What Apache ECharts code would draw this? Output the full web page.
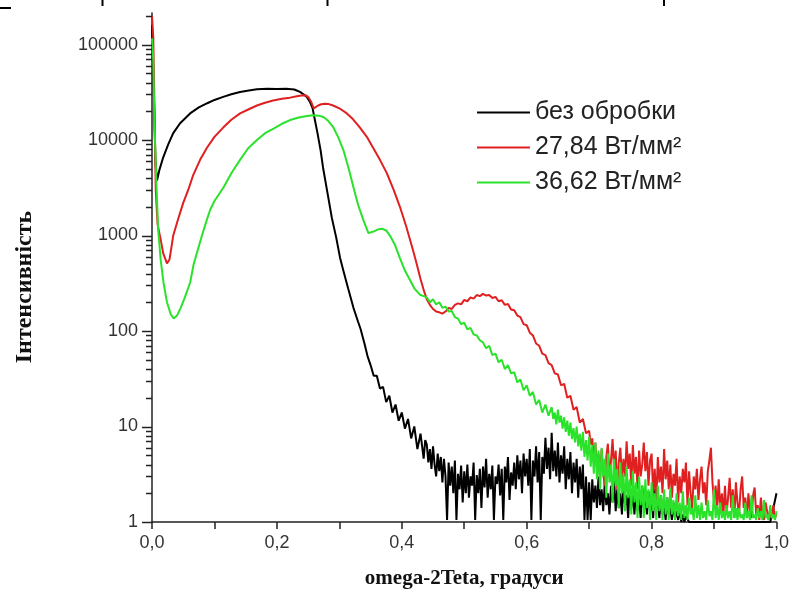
<!DOCTYPE html>
<html><head><meta charset="utf-8">
<script src="https://cdn.jsdelivr.net/npm/echarts@6/dist/echarts.min.js"></script>
<style>html,body{margin:0;padding:0;background:#fff}#c{width:792px;height:603px}</style>
</head><body><div id="c"></div>
<script>
const seriesNames = ['без обробки', '27,84 Вт/мм²', '36,62 Вт/мм²'];
const seriesColors = ['#000000', '#e02020', '#2be22b'];
const yMajorTicks = [1, 10, 100, 1000, 10000, 100000];
const yMinorTicks = [2,3,4,5,6,7,8,9,20,30,40,50,60,70,80,90,200,300,400,500,600,700,800,900,
  2000,3000,4000,5000,6000,7000,8000,9000,20000,30000,40000,50000,60000,70000,80000,90000,200000];

const blackPts = [[0,160000],[0.003,30000],[0.0055,6000],[0.008,3770],[0.012,4900],[0.018,6600],[0.026,9000],[0.034,11800],[0.045,15000],[0.061,19000],[0.075,22000],[0.0885,24300],[0.1,26300],[0.114,28300],[0.127,30200],[0.141,31900],[0.155,33000],[0.168,34000],[0.185,34500],[0.2,34300],[0.215,34400],[0.228,33800],[0.237,31900],[0.243,30000],[0.248,28300],[0.253,25000],[0.257,21700],[0.261,16000],[0.265,11800],[0.27,7800],[0.274,5100],[0.281,2800],[0.288,1530],[0.295,950],[0.301,590],[0.307,415],[0.314,280],[0.3226,175],[0.33,125],[0.334,105],[0.34,75],[0.345,55],
[0.350,44],[0.355,34],[0.360,34],[0.365,25],[0.370,26],[0.375,18],[0.380,21],[0.385,14],[0.390,17],[0.395,11.5],[0.400,14],[0.405,9.5],[0.410,12],[0.415,7.5],[0.420,10],[0.425,5.8],[0.430,8.4],[0.435,4.6],[0.4375,7.2],
[0.4400,6.5],[0.4425,4.2],[0.4450,5.8],[0.4475,3.6],[0.4500,6.2],[0.4525,4.0],[0.4550,3.0],[0.4575,5.2],[0.4600,3.4],[0.4625,4.8],[0.4650,2.6],[0.4675,4.6],[0.4700,3.0],[0.4725,1.05],[0.4750,4.2],[0.4775,2.4],[0.4800,3.8],[0.4825,2.0],[0.4850,4.4],[0.4875,1.05],[0.4900,3.2],[0.4925,2.2],[0.4950,3.9],[0.4975,1.6],[0.5000,3.4],[0.5025,2.0],[0.5050,4.0],[0.5075,1.8],[0.5100,3.0],[0.5125,2.4],[0.5150,4.2],[0.5175,1.05],[0.5200,3.1],[0.5225,2.0],[0.5250,3.6],[0.5275,1.4],[0.5300,3.8],[0.5325,2.3],[0.5350,4.6],[0.5375,1.8],[0.5400,3.2],[0.5425,2.2],[0.5450,3.9],[0.5475,1.05],[0.5500,3.0],[0.5525,2.5],[0.5550,4.0],[0.5575,1.9],[0.5600,3.6],[0.5625,1.05],[0.5650,3.8],[0.5675,2.6],[0.5700,4.8],[0.5725,1.7],[0.5750,3.3],[0.5775,2.4],[0.5800,4.2],[0.5825,2.2],[0.5850,5.0],[0.5875,2.8],[0.5900,4.4],[0.5925,2.0],[0.5950,5.2],[0.5975,3.0],[0.6000,4.6],[0.6025,2.4],[0.6050,5.8],[0.6075,1.05],[0.6100,4.4],[0.6125,3.0],[0.6150,6.2],[0.6175,2.6],[0.6200,5.4],[0.6225,1.05],[0.6250,4.8],[0.6275,3.2],[0.6300,7.6],[0.6325,3.6],[0.6350,6.0],[0.6375,2.8],[0.6400,8.6],[0.6425,3.4],[0.6450,5.6],[0.6475,3.0],[0.6500,6.8],[0.6525,2.6],[0.6550,5.0],[0.6575,3.2],[0.6600,6.2],[0.6625,2.2],[0.6650,4.6],[0.6675,2.8],[0.6700,5.4],[0.6725,2.0],[0.6750,4.2],[0.6775,2.6],[0.6800,4.6],[0.6825,1.8],[0.6850,3.8],[0.6875,2.2],[0.6900,4.0],[0.6925,1.05],[0.6950,3.0],[0.6975,1.05],[0.7000,2.6],[0.7025,1.05],[0.7050,2.8],[0.7075,1.6],[0.7100,2.4],[0.7125,1.4],[0.7150,3.0],[0.7175,1.5],[0.7200,2.2],[0.7225,1.3],[0.7250,2.6],[0.7275,1.5],[0.7300,2.0],[0.7325,1.2],[0.7350,2.4],[0.7375,1.6],[0.7400,2.8],[0.7425,1.3],[0.7450,2.2],[0.7475,1.4],[0.7500,2.0],[0.7525,1.2],[0.7550,2.4],[0.7575,1.5],[0.7600,1.9],[0.7625,1.1],[0.7650,2.5],[0.7675,1.4],[0.7700,2.0],[0.7725,1.2],[0.7750,2.2],[0.7775,1.3],[0.7800,1.8],[0.7825,1.1],[0.7850,2.4],[0.7875,1.4],[0.7900,1.9],[0.7925,1.2],[0.7950,2.1],[0.7975,1.3],[0.8000,1.7],[0.8025,1.1],[0.8050,2.2],[0.8075,1.4],[0.8100,1.6],[0.8125,1.1],[0.8150,1.9],[0.8175,1.2],[0.8200,1.5],[0.8225,1.05],[0.8250,1.8],[0.8275,1.2],[0.8300,1.4],[0.8325,1.05],[0.8350,1.6],[0.8375,1.1],[0.8400,1.3],[0.8425,1.05],[0.8450,1.4],[0.8475,1.0],[0.8500,1.2],[0.8525,1.0],[0.8550,1.15],[0.8600,1.0],
[0.9,1],[0.95,1],[0.99,1],[0.995,1.4],[1.0,2]];

const redPts = [[0,200000],[0.002,120000],[0.004,20000],[0.006,3000],[0.009,1300],[0.0133,950],[0.018,650],[0.024,510],[0.028,560],[0.034,1000],[0.042,1500],[0.05,2200],[0.058,3000],[0.066,4300],[0.077,6200],[0.088,8300],[0.1,10800],[0.114,13500],[0.127,16300],[0.141,19000],[0.155,21000],[0.168,23000],[0.181,24600],[0.194,26000],[0.208,27000],[0.221,27800],[0.232,28800],[0.242,29500],[0.247,29200],[0.251,27800],[0.255,25000],[0.259,21500],[0.262,22000],[0.266,23000],[0.271,23700],[0.277,24000],[0.283,23800],[0.29,23000],[0.3,21500],[0.312,19000],[0.322,16500],[0.333,13500],[0.344,10800],[0.354,8300],[0.365,6200],[0.376,4500],[0.387,3000],[0.397,2000],[0.407,1250],[0.418,700],[0.424,500],[0.43,350],[0.435,270],[0.44,215],[0.445,188],[0.45,170],[0.455,160],
[0.460,157],[0.465,152],[0.470,160],[0.475,175],[0.480,170],[0.485,188],[0.490,195],[0.495,190],[0.500,212],[0.505,205],[0.510,225],[0.515,218],[0.520,238],[0.525,232],[0.530,245],[0.535,235],[0.540,238],[0.545,222],[0.550,228],[0.555,205],[0.560,210],[0.565,188],[0.570,192],[0.575,168],[0.580,165],[0.585,145],[0.590,140],[0.595,118],[0.600,115],[0.605,96],[0.610,90],[0.615,74],[0.620,70],[0.625,58],[0.630,56],[0.635,46],[0.640,44],[0.645,36],[0.650,35],[0.655,27],[0.660,28],[0.665,20],[0.670,21],[0.675,15],[0.680,16],[0.685,11],[0.690,12],[0.695,8.5],
[0.7000,9],[0.7025,6.5],[0.7050,7.5],[0.7075,4.5],[0.7100,6.8],[0.7125,3.6],[0.7150,5.2],[0.7175,2.8],[0.7200,5.8],[0.7225,3.2],[0.7250,2.4],[0.7275,4.8],[0.7300,6.6],[0.7325,3.0],[0.7350,4.4],[0.7375,7.4],[0.7400,3.4],[0.7425,5.6],[0.7450,2.2],[0.7475,4.2],[0.7500,6.0],[0.7525,2.8],[0.7550,4.6],[0.7575,3.0],[0.7600,7.0],[0.7625,3.6],[0.7650,5.2],[0.7675,2.4],[0.7700,6.4],[0.7725,3.2],[0.7750,4.8],[0.7775,2.2],[0.7800,5.6],[0.7825,3.0],[0.7850,4.0],[0.7875,6.8],[0.7900,3.4],[0.7925,5.4],[0.7950,2.4],[0.7975,4.4],[0.8000,5.2],[0.8025,2.0],[0.8050,3.6],[0.8075,1.6],[0.8100,4.8],[0.8125,2.6],[0.8150,3.8],[0.8175,2.0],[0.8200,5.8],[0.8225,2.8],[0.8250,4.4],[0.8275,2.2],[0.8300,4.0],[0.8325,1.8],[0.8350,3.2],[0.8375,2.4],[0.8400,4.6],[0.8425,1.6],[0.8450,3.0],[0.8475,2.0],[0.8500,3.6],[0.8525,2.6],[0.8550,4.2],[0.8575,1.5],[0.8600,3.4],[0.8625,2.0],[0.8650,1.4],[0.8675,3.0],[0.8700,2.2],[0.8725,3.6],[0.8750,1.7],[0.8775,2.8],[0.8800,3.8],[0.8825,2.0],[0.8850,2.6],[0.8875,1.5],[0.8900,3.4],[0.8925,4.4],[0.8950,6.0],[0.8975,2.6],[0.9000,1.6],[0.9025,2.4],[0.9050,1.4],[0.9075,2.8],[0.9100,1.3],[0.9125,2.0],[0.9150,1.2],[0.9175,2.4],[0.9200,1.2],[0.9225,1.8],[0.9250,2.9],[0.9275,1.4],[0.9300,2.2],[0.9325,1.1],[0.9350,2.6],[0.9375,1.6],[0.9400,1.2],[0.9425,2.2],[0.9450,3.0],[0.9475,1.4],[0.9500,1.8],[0.9525,1.1],[0.9550,2.0],[0.9575,1.3],[0.9600,1.1],[0.9625,1.9],[0.9650,2.3],[0.9675,1.2],[0.9700,1.5],[0.9725,1.05],[0.9750,1.8],[0.9775,1.2],[0.9800,1.05],[0.9825,1.6],[0.9850,1.3],[0.9875,1.05],[0.9900,1.4],[0.9925,1.1],[0.9950,1.5],[0.9975,1.1],[1.0000,1.2]];

const greenPts = [[0,116000],[0.002,70000],[0.004,15000],[0.007,3500],[0.0099,1150],[0.014,550],[0.0186,315],[0.024,200],[0.03,150],[0.0346,135],[0.04,145],[0.046,175],[0.052,220],[0.061,320],[0.0667,500],[0.072,660],[0.08,1000],[0.0875,1440],[0.093,1850],[0.1,2300],[0.1147,3200],[0.128,4600],[0.141,6200],[0.154,8200],[0.168,10000],[0.181,11800],[0.1947,13200],[0.208,14800],[0.221,16200],[0.235,17200],[0.248,17900],[0.258,18200],[0.267,18000],[0.2746,17400],[0.282,15900],[0.29,13700],[0.298,10800],[0.3066,7800],[0.315,5000],[0.3226,3200],[0.33,2100],[0.3386,1440],[0.3466,1060],[0.3546,1100],[0.362,1160],[0.368,1180],[0.375,1130],[0.381,1000],[0.389,800],[0.397,580],[0.405,430],[0.4133,340],[0.42,280],[0.429,240],[0.435,232],
[0.440,225],[0.445,200],[0.450,215],[0.455,190],[0.460,200],[0.465,175],[0.470,180],[0.475,160],[0.480,162],[0.485,140],[0.490,135],[0.495,118],[0.500,122],[0.505,104],[0.510,108],[0.515,92],[0.520,90],[0.525,80],[0.530,76],[0.535,66],[0.540,70],[0.545,56],[0.550,58],[0.555,47],[0.560,50],[0.565,40],[0.570,44],[0.575,36],[0.580,37],[0.585,29],[0.590,31],[0.595,24],[0.600,27],[0.605,21],[0.610,23],[0.615,17],[0.620,19],[0.625,14],[0.630,17],[0.635,13],
[0.6400,16],[0.6425,12],[0.6450,14],[0.6475,10.5],[0.6500,15],[0.6525,11],[0.6550,13],[0.6575,9.5],[0.6600,12.5],[0.6625,8.8],[0.6650,11.5],[0.6675,8.0],[0.6700,11],[0.6725,7.4],[0.6750,9.6],[0.6775,6.8],[0.6800,10],[0.6825,6.2],[0.6850,8.4],[0.6875,5.6],[0.6900,8.8],[0.6925,4.8],[0.6950,7.2],[0.6975,4.4],[0.7000,7.8],[0.7025,3.8],[0.7050,6.4],[0.7075,3.2],[0.7100,6.8],[0.7125,2.8],[0.7150,5.6],[0.7175,2.2],[0.7200,6.0],[0.7225,3.0],[0.7250,4.6],[0.7275,1.8],[0.7300,5.2],[0.7325,2.6],[0.7350,4.0],[0.7375,1.6],[0.7400,4.6],[0.7425,2.4],[0.7450,3.6],[0.7475,1.4],[0.7500,4.2],[0.7525,2.0],[0.7550,3.2],[0.7575,1.3],[0.7600,3.8],[0.7625,1.8],[0.7650,2.8],[0.7675,1.2],[0.7700,3.4],[0.7725,1.6],[0.7750,2.6],[0.7775,1.1],[0.7800,3.0],[0.7825,1.5],[0.7850,2.4],[0.7875,1.1],[0.7900,2.8],[0.7925,1.4],[0.7950,2.2],[0.7975,1.05],[0.8000,2.6],[0.8025,1.3],[0.8050,2.0],[0.8075,1.05],[0.8100,2.4],[0.8125,1.3],[0.8150,1.9],[0.8175,1.05],[0.8200,2.2],[0.8225,1.2],[0.8250,1.8],[0.8275,1.05],[0.8300,2.3],[0.8325,1.2],[0.8350,1.7],[0.8375,1.05],[0.8400,2.0],[0.8425,1.15],[0.8450,1.6],[0.8475,1.05],[0.8500,2.1],[0.8525,1.1],[0.8550,1.5],[0.8575,1.05],[0.8600,1.8],[0.8625,1.2],[0.8650,1.4],[0.8675,1.05],[0.8700,1.9],[0.8725,1.1],[0.8750,1.5],[0.8775,1.05],[0.8800,1.6],[0.8825,1.1],[0.8850,1.3],[0.8875,1.05],[0.8900,1.7],[0.8925,1.15],[0.8950,1.3],[0.8975,1.05],[0.9000,2.2],[0.9025,1.1],[0.9050,1.5],[0.9075,1.05],[0.9100,1.6],[0.9125,1.1],[0.9150,1.3],[0.9175,1.05],[0.9200,1.5],[0.9225,1.1],[0.9250,1.3],[0.9275,1.05],[0.9300,1.9],[0.9325,1.1],[0.9350,1.4],[0.9375,1.05],[0.9400,1.4],[0.9425,1.1],[0.9450,1.2],[0.9475,1.05],[0.9500,1.6],[0.9525,1.1],[0.9550,1.3],[0.9575,1.05],[0.9600,1.9],[0.9625,1.1],[0.9650,1.2],[0.9675,1.05],[0.9700,1.4],[0.9725,1.1],[0.9750,1.3],[0.9775,1.05],[0.9800,1.7],[0.9825,1.1],[0.9850,1.2],[0.9875,1.05],[0.9900,1.5],[0.9925,1.1],[0.9950,1.2],[0.9975,1.05],[1.0000,1.3]];

const axisColor = '#222';
const chart = echarts.init(document.getElementById('c'), null, {renderer: 'canvas'});

const tickData = yMajorTicks.map(v => [0, v, 10]).concat(yMinorTicks.map(v => [0, v, 6]));

const lineSeries = [blackPts, redPts, greenPts].map((pts, i) => ({
  name: seriesNames[i],
  type: 'line',
  data: pts,
  showSymbol: false,
  symbol: 'none',
  lineStyle: {color: seriesColors[i], width: 2},
  itemStyle: {color: seriesColors[i]},
  clip: true,
  z: 2 + i
}));

chart.setOption({
  animation: false,
  backgroundColor: '#ffffff',
  grid: {left: 152, right: 15, top: 13, bottom: 81},
  legend: {
    orient: 'vertical', left: 477, top: 100, padding: 0,
    itemWidth: 53, itemHeight: 2, itemGap: 10, icon: 'rect',
    data: seriesNames,
    textStyle: {fontFamily: '"Liberation Sans", Arial, sans-serif', fontSize: 25, color: '#222', lineHeight: 25}
  },
  xAxis: {
    type: 'value', min: 0, max: 1, interval: 0.1,
    name: 'omega-2Teta, градуси', nameLocation: 'middle', nameGap: 46,
    nameTextStyle: {fontFamily: '"Liberation Serif", "Times New Roman", serif', fontWeight: 'bold', fontSize: 21, color: '#111'},
    axisLine: {lineStyle: {color: axisColor, width: 1.5}},
    axisTick: {length: 7, lineStyle: {color: axisColor, width: 1.5}},
    axisLabel: {
      fontFamily: '"Liberation Sans", Arial, sans-serif', fontSize: 18, color: '#333', margin: 12,
      formatter: v => (Math.round(v * 10) % 2 === 0) ? v.toFixed(1).replace('.', ',') : ''
    },
    splitLine: {show: false}
  },
  yAxis: {
    type: 'log', logBase: 10, min: 1, max: 214000,
    axisLine: {lineStyle: {color: axisColor, width: 1.5}},
    axisTick: {show: false},
    axisLabel: {
      fontFamily: '"Liberation Sans", Arial, sans-serif', fontSize: 18, color: '#333', margin: 14,
      formatter: v => { const l = Math.log10(v); return Math.abs(l - Math.round(l)) < 1e-6 ? String(Math.round(v)) : ''; }
    },
    splitLine: {show: false}
  },
  graphic: [
    {type: 'text', x: 25, y: 287, rotation: Math.PI / 2,
     style: {text: 'Інтенсивність', font: 'bold 24px "Liberation Serif", "Times New Roman", serif', fill: '#111', textAlign: 'center', textVerticalAlign: 'middle'}},
    {type: 'line', shape: {x1: 0, y1: 8, x2: 11, y2: 8}, style: {stroke: '#000', lineWidth: 2}},
    {type: 'line', shape: {x1: 102.5, y1: 0, x2: 102.5, y2: 6}, style: {stroke: '#000', lineWidth: 2}},
    {type: 'line', shape: {x1: 327.5, y1: 0, x2: 327.5, y2: 6}, style: {stroke: '#000', lineWidth: 2}},
    {type: 'line', shape: {x1: 664, y1: 0, x2: 664, y2: 6}, style: {stroke: '#000', lineWidth: 2}}
  ],
  series: lineSeries.concat([{
    name: 'yTicks',
    type: 'custom',
    coordinateSystem: 'cartesian2d',
    silent: true,
    clip: false,
    z: 10,
    dimensions: ['x', 'y', 'len'],
    encode: {x: 'x', y: 'y'},
    data: tickData,
    renderItem: (params, api) => {
      const p = api.coord([api.value('x'), api.value('y')]);
      const len = api.value('len');
      const yy = Math.round(p[1]) + 0.5;
      return {type: 'line', shape: {x1: p[0] - len, y1: yy, x2: p[0], y2: yy},
              style: {stroke: axisColor, lineWidth: 1.5}};
    }
  }])
});
</script></body></html>
